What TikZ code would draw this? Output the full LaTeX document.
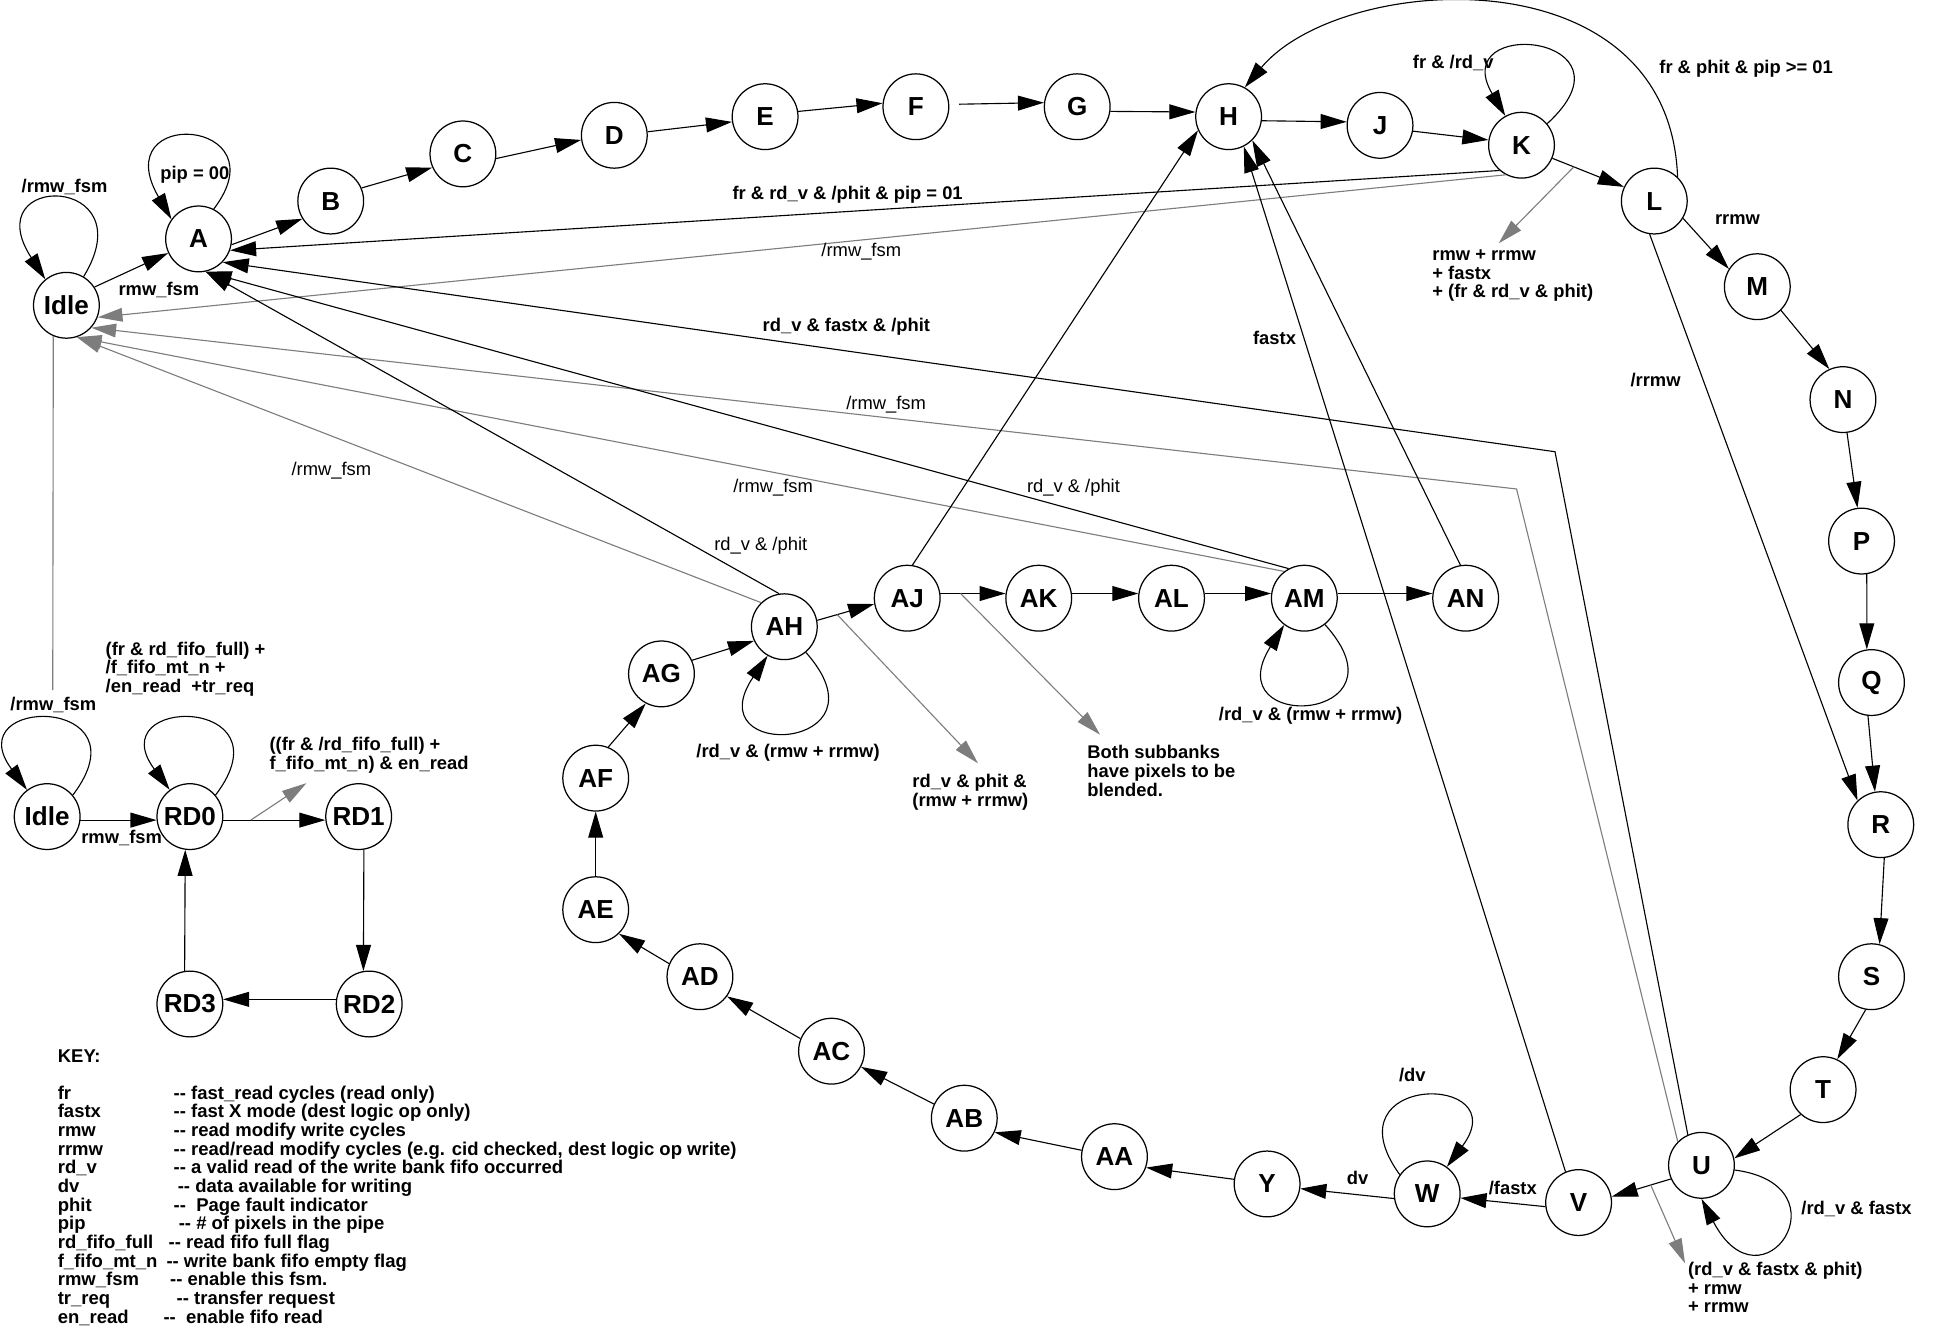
\documentclass[tikz,border=0pt]{standalone}
\usepackage{fontspec}
\setmainfont{Liberation Sans}
\usetikzlibrary{arrows.meta}
\definecolor{gr}{RGB}{125,125,125}
\tikzset{
  st/.style={circle, draw, line width=1pt, minimum size=53pt, inner sep=0pt, font=\fontsize{21}{21}\selectfont\bfseries},
  ed/.style={draw, line width=0.9pt, -{Triangle[length=21pt,width=12pt]}},
  ged/.style={color=gr, line width=0.9pt, -{Triangle[length=20pt,width=11pt]}},
  gln/.style={color=gr, line width=0.9pt},
  lb/.style={inner sep=0pt, font=\fontsize{14.8}{15}\selectfont\bfseries},
  lr/.style={inner sep=0pt, font=\fontsize{14.8}{15}\selectfont},
  ml/.style={lb, align=left, anchor=north west},
  kb/.style={inner sep=0pt, font=\fontsize{14.9}{15}\selectfont\bfseries, anchor=base west},
}
\begin{document}
\begin{tikzpicture}[x=1pt,y=1pt]
\useasboundingbox (0,0) rectangle (1560,-1069);
% ---- states
\node[st] (Idle) at (53.5,-246) {Idle};
\node[st] (A) at (160,-192.5) {A};
\node[st] (B) at (266.5,-162) {B};
\node[st] (C) at (373,-124) {C};
\node[st] (D) at (495,-109) {D};
\node[st] (E) at (616.5,-94) {E};
\node[st] (F) at (738,-86) {F};
\node[st] (G) at (868,-86) {G};
\node[st] (H) at (990,-94) {H};
\node[st] (J) at (1112,-101) {J};
\node[st] (K) at (1226,-117) {K};
\node[st] (L) at (1333,-162) {L};
\node[st] (M) at (1416,-231) {M};
\node[st] (N) at (1485,-322) {N};
\node[st] (P) at (1500,-436) {P};
\node[st] (Q) at (1508,-550) {Q};
\node[st] (R) at (1515.5,-664.5) {R};
\node[st] (S) at (1508,-787) {S};
\node[st] (T) at (1469,-878) {T};
\node[st] (U) at (1371,-939) {U};
\node[st] (V) at (1272,-969) {V};
\node[st] (W) at (1150,-962) {W};
\node[st] (Y) at (1021,-954) {Y};
\node[st] (AA) at (898,-932) {AA};
\node[st] (AB) at (777,-901) {AB};
\node[st] (AC) at (670,-847) {AC};
\node[st] (AD) at (564,-787) {AD};
\node[st] (AE) at (480,-733) {AE};
\node[st] (AF) at (480,-627) {AF};
\node[st] (AG) at (533,-543) {AG};
\node[st] (AH) at (632,-505) {AH};
\node[st] (AJ) at (731,-482) {AJ};
\node[st] (AK) at (837,-482) {AK};
\node[st] (AL) at (944,-482) {AL};
\node[st] (AM) at (1051,-482) {AM};
\node[st] (AN) at (1181,-482) {AN};
\node[st] (Idle2) at (38,-658) {Idle};
\node[st] (RD0) at (153,-658) {RD0};
\node[st] (RD1) at (289,-658) {RD1};
\node[st] (RD2) at (297.5,-809) {RD2};
\node[st] (RD3) at (153,-809) {RD3};
% ---- main chain
\draw[ed] (Idle.33) -- (A.205);
\draw[ed] (A.-10) -- (B.212);
\draw[ed] (B.23) -- (C.204);
\draw[ed] (C.-8) -- (D.188);
\draw[ed] (D.6) -- (E.189);
\draw[ed] (E.9) -- (F.174);
\draw[ed, shorten <=8pt] (F.4) -- (G.173);
\draw[ed] (G.-8) -- (H.172);
\draw[ed] (H.-7) -- (J.174);
\draw[ed] (J.-10) -- (K.171);
\draw[ed] (K.-23) -- coordinate[pos=0.3] (kl) (L.155);
\draw[ed] (L.-31) -- (M.148);
\draw[ed] (M.-45) -- (N.114);
\draw[ed] (N.-83) -- (P.97);
\draw[ed] (P.-81) -- (Q.98);
\draw[ed] (Q.-96) -- (R.100);
\draw[ed] (R.-84) -- (S.76);
\draw[ed] (S.-100) -- (T.65);
\draw[ed] (T.228) -- (U.12);
\draw[ed] (U.204) -- coordinate[pos=0.34] (uv) (V.10);
\draw[ed] (V.187) -- (W.-7);
\draw[ed] (W.188) -- (Y.-8);
\draw[ed] (Y.172) -- (AA.-19);
\draw[ed] (AA.169) -- (AB.-25);
\draw[ed] (AB.155) -- (AC.-28);
\draw[ed] (AC.158) -- (AD.-36);
\draw[ed] (AD.157) -- (AE.-46);
\draw[ed] (AE) -- (AF);
\draw[ed] (AF.68) -- (AG.242);
\draw[ed] (AG.24) -- (AH.205);
\draw[ed] (AH.11) -- coordinate[pos=0.35] (ahj) (AJ.190);
\draw[ed] (AJ.8) -- coordinate[pos=0.31] (ajk) (AK.172);
\draw[ed] (AK.8) -- (AL.172);
\draw[ed] (AL.8) -- (AM.172);
\draw[ed] (AM.8) -- (AN.172);
% ---- read fsm
\draw[ed] (Idle2.-6) -- (RD0.186);
\draw[ed] (RD0.-6) -- coordinate[pos=0.27] (r01) (RD1.186);
\draw[ed] (RD1.-81) -- (RD2.100);
\draw[ed] (RD2.172) -- (RD3.8);
\draw[ed] (RD3.99) -- (RD0.-98);
% ---- self loops
\draw[ed] (Idle.59) .. controls (118,-140) and (-20,-138) .. (Idle.129);
\draw[ed] (A.63) .. controls (228,-95) and (85,-85) .. (A.144);
\draw[ed] (K.40) .. controls (1325,-28) and (1165,-12) .. (K.119);
\draw[ed] (Idle2.40) .. controls (120,-560) and (-35,-560) .. (Idle2.127);
\draw[ed] (RD0.40) .. controls (235,-560) and (80,-560) .. (RD0.127);
\draw[ed] (AH.-50) .. controls (720,-605) and (560,-615) .. (AH.-120);
\draw[ed] (AM.-52) .. controls (1139,-582) and (979,-592) .. (AM.-127);
\draw[ed] (W.145) .. controls (1068,-864) and (1223,-864) .. (W.54);
\draw[ed] (U.-8) .. controls (1490,-955) and (1420,-1060) .. (U.-90);
% ---- arc L -> H
\draw[ed] (L.46) .. controls (1345,40) and (1080,22) .. (H.61);
% ---- long transitions
\coordinate (b1) at (1253,-364);
\coordinate (b2) at (1222,-394);
\coordinate (idown) at (42.5,-556);
\draw[ed] (K.229) -- (A.-20);
\draw[ged] (K.242) -- (Idle.-21);
\draw[ed] (U.114) -- (b1) -- (A.-44);
\draw[ged] (U.135) -- (b2) -- (Idle.-42);
\draw[ed] (AM.118) -- (A.-78);
\draw[ged] (AM.127) -- (Idle.-72);
\draw[ed] (AH.99) -- (A.-78);
\draw[ged] (AH.134) -- (Idle.-72);
\draw[ed] (AJ.81) -- (H.204);
\draw[ed] (V.113) -- (H.-63);
\draw[ed] (AN.99) -- (H.-45);
\draw[ed] (L.-98) -- (R.134);
\draw[gln] (Idle.-113) -- (idown);
% ---- stubs
\coordinate (ks) at (1207.7,-196);
\coordinate (ahs) at (788,-615);
\coordinate (ajs) at (886.4,-592);
\coordinate (rs) at (247,-631);
\coordinate (us) at (1357.8,-1018);
\draw[ged] (kl) -- (ks);
\draw[ged] (ahj) -- (ahs);
\draw[ged] (ajk) -- (ajs);
\draw[ged] (r01) -- (rs);
\draw[ged] (uv) -- (us);
% ---- labels
\node[lb] (l1) at (52,-151) {/rmw\_fsm};
\node[lb] (l2) at (128,-234) {rmw\_fsm};
\node[lb] (l3) at (157,-141) {pip = 00};
\node[lb] (l4) at (683,-157) {fr \& rd\_v \& /phit \& pip = 01};
\node[lr] (l5) at (694,-203) {/rmw\_fsm};
\node[lb] (l6) at (682,-263) {rd\_v \& fastx \& /phit};
\node[lb] (l7) at (1027,-272) {fastx};
\node[lr] (l8) at (714,-326) {/rmw\_fsm};
\node[lr] (l9) at (267,-379) {/rmw\_fsm};
\node[lr] (l10) at (623,-393) {/rmw\_fsm};
\node[lr] (l11) at (865,-393) {rd\_v \& /phit};
\node[lr] (l12) at (613,-440) {rd\_v \& /phit};
\node[lb] (l13) at (635,-606.5) {/rd\_v \& (rmw + rrmw)};
\node[ml] (l14) at (735,-624) {rd\_v \& phit \&\\(rmw + rrmw)};
\node[ml] (l15) at (876,-600.5) {Both subbanks\\have pixels to be\\blended.};
\node[lb] (l16) at (1056,-577) {/rd\_v \& (rmw + rrmw)};
\node[lb] (l17) at (1334,-306) {/rrmw};
\node[lb] (l18) at (1400,-177) {rrmw};
\node[lb] (l19) at (1407,-55) {fr \& phit \& pip >= 01};
\node[lb] (l20) at (1171,-51) {fr \& /rd\_v};
\node[ml] (l21) at (1154,-201) {rmw + rrmw\\+ fastx\\+ (fr \& rd\_v \& phit)};
\node[lb] (l22) at (1138,-866) {/dv};
\node[lb] (l23) at (1094,-949) {dv};
\node[lb] (l24) at (1219,-957) {/fastx};
\node[lb] (l25) at (1496,-974) {/rd\_v \& fastx};
\node[ml] (l26) at (1360,-1017) {(rd\_v \& fastx \& phit)\\+ rmw\\+ rrmw};
\node[ml] (l27) at (85,-517) {(fr \& rd\_fifo\_full) +\\/f\_fifo\_mt\_n +\\/en\_read~ +tr\_req};
\node[lb] (l28) at (43,-568) {/rmw\_fsm};
\node[ml] (l29) at (217,-594) {((fr \& /rd\_fifo\_full) +\\f\_fifo\_mt\_n) \& en\_read};
\node[lb] (l30) at (98,-675) {rmw\_fsm};
% ---- key
\node[kb] (key) at (46.4,-856) {KEY:};
\node[kb] (kn0) at (46.4,-885.7) {fr};
\node[kb] (kd0) at (139.8,-885.7) {-{}- fast\_read cycles (read only)};
\node[kb] (kn1) at (46.4,-900.7) {fastx};
\node[kb] (kd1) at (139.8,-900.7) {-{}- fast X mode (dest logic op only)};
\node[kb] (kn2) at (46.4,-915.8) {rmw};
\node[kb] (kd2) at (139.8,-915.8) {-{}- read modify write cycles};
\node[kb] (kn3) at (46.4,-930.8) {rrmw};
\node[kb] (kd3) at (139.8,-930.8) {-{}- read/read modify cycles (e.g. cid checked, dest logic op write)};
\node[kb] (kn4) at (46.4,-945.9) {rd\_v};
\node[kb] (kd4) at (139.8,-945.9) {-{}- a valid read of the write bank fifo occurred};
\node[kb] (kn5) at (46.4,-960.9) {dv};
\node[kb] (kd5) at (143.1,-960.9) {-{}- data available for writing};
\node[kb] (kn6) at (46.4,-975.9) {phit};
\node[kb] (kd6) at (139.8,-975.9) {-{}-~ Page fault indicator};
\node[kb] (kn7) at (46.4,-991) {pip};
\node[kb] (kd7) at (143.9,-991) {-{}- \# of pixels in the pipe};
\node[kb] (kn8) at (46.4,-1006) {rd\_fifo\_full};
\node[kb] (kd8) at (135.7,-1006) {-{}- read fifo full flag};
\node[kb] (kn9) at (46.4,-1021.1) {f\_fifo\_mt\_n};
\node[kb] (kd9) at (134,-1021.1) {-{}- write bank fifo empty flag};
\node[kb] (kn10) at (46.4,-1036.1) {rmw\_fsm};
\node[kb] (kd10) at (136.9,-1036.1) {-{}- enable this fsm.};
\node[kb] (kn11) at (46.4,-1051.1) {tr\_req};
\node[kb] (kd11) at (142.2,-1051.1) {-{}- transfer request};
\node[kb] (kn12) at (46.4,-1066.2) {en\_read};
\node[kb] (kd12) at (131.6,-1066.2) {-{}-~ enable fifo read};
\end{tikzpicture}
\end{document}
